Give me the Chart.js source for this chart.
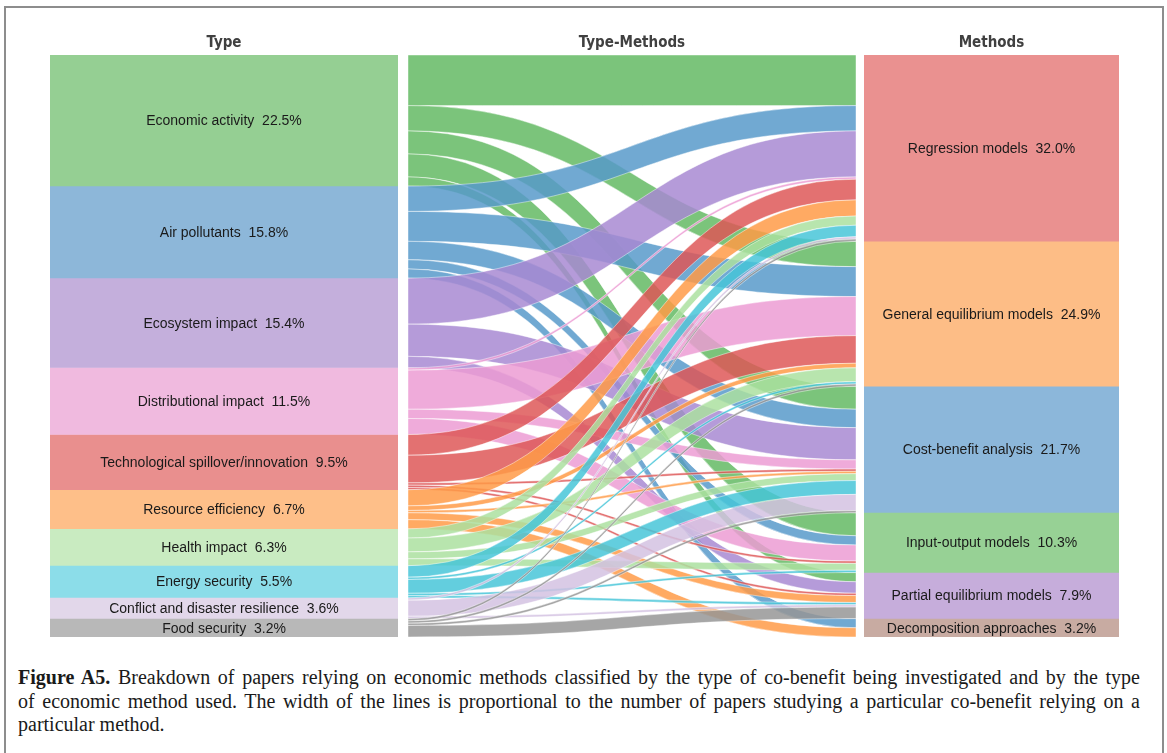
<!DOCTYPE html>
<html>
<head>
<meta charset="utf-8">
<script src="https://cdn.jsdelivr.net/npm/chart.js@4.4.1/dist/chart.umd.min.js"></script>
<style>
    body { margin: 0; background: #fff; width: 1167px; height: 753px; position: relative; overflow: hidden; }
    #frame { position: absolute; left: 4px; top: 6px; width: 1156px; height: 800px; border: 2px solid #8d8d8d; }
    .col { position: absolute; top: 33px; height: 604px; }
    #cap { position: absolute; left: 18px; top: 666px; width: 1122px; font-family: "Liberation Serif", "Times New Roman", serif; font-size: 20px; line-height: 23.5px; color: #1a1a1a; }
    #cap div.j { text-align: justify; text-align-last: justify; }
</style>
</head>
<body>
<div id="frame"></div>
<div class="col" style="left:50px;width:348px"><canvas id="typeChart"></canvas></div>
<div class="col" style="left:408px;width:448px"><canvas id="flowChart"></canvas></div>
<div class="col" style="left:864px;width:255px"><canvas id="methodChart"></canvas></div>
<div id="cap">
    <div class="j"><b>Figure A5.</b> Breakdown of papers relying on economic methods classified by the type of co-benefit being investigated and by the type</div>
    <div class="j">of economic method used. The width of the lines is proportional to the number of papers studying a particular co-benefit relying on a</div>
    <div>particular method.</div>
</div>
<script>
/* ─── 資料 ─── */
const types = ['Economic activity', 'Air pollutants', 'Ecosystem impact', 'Distributional impact',
    'Technological spillover/innovation', 'Resource efficiency', 'Health impact', 'Energy security',
    'Conflict and disaster resilience', 'Food security'];
const typePct = [22.5, 15.8, 15.4, 11.5, 9.5, 6.7, 6.3, 5.5, 3.6, 3.2];

const methods = ['Regression models', 'General equilibrium models', 'Cost-benefit analysis',
    'Input-output models', 'Partial equilibrium models', 'Decomposition approaches'];
const methodPct = [32.0, 24.9, 21.7, 10.3, 7.9, 3.2];

/* papers per type -> [Regression, GE, CBA, IO, PE, Decomposition] */
const econFlows     = [22, 11, 10, 10, 4, 0];
const airFlows      = [11, 13,  8,  4, 0, 4];
const ecoFlows      = [20,  0, 14,  0, 5, 0];
const distFlows     = [ 1, 17,  4,  7, 0, 0];
const techFlows     = [ 9, 12,  1,  1, 1, 0];
const resFlows      = [ 7,  2,  1,  0, 3, 4];
const healthFlows   = [ 4,  6,  3,  3, 0, 0];
const energyFlows   = [ 5,  1,  6,  1, 1, 0];
const conflictFlows = [ 1,  0,  7,  0, 1, 0];
const foodFlows     = [ 1,  1,  1,  0, 5, 0];
const flowRows = [econFlows, airFlows, ecoFlows, distFlows, techFlows, resFlows,
    healthFlows, energyFlows, conflictFlows, foodFlows];

/* ─── 色彩 ─── */
const typeColors   = ['#95cf93', '#8db7d9', '#c4afdc', '#f0badf', '#e98f8e', '#febf89', '#c9ebc1', '#8cdde9', '#e2d7ea', '#b8b8b8'];
const flowColors   = ['rgba(100,186,100,0.85)', 'rgba(88,154,202,0.85)', 'rgba(168,138,210,0.85)', 'rgba(236,156,212,0.85)',
    'rgba(222,88,88,0.85)', 'rgba(255,155,72,0.85)', 'rgba(172,224,160,0.85)', 'rgba(72,198,216,0.85)',
    'rgba(212,194,226,0.85)', 'rgba(150,150,150,0.85)'];
const methodColors = ['#ea9190', '#fdbd86', '#8cb7da', '#97d195', '#c6addb', '#c8aba2'];

const TITLE_FONT = { family: '"DejaVu Sans Condensed", "DejaVu Sans", sans-serif', size: 15, weight: 'bold' };
const titleCfg = text => ({ display: true, text, color: '#404040', font: TITLE_FONT, padding: { top: 1, bottom: 3 } });

/* 段內標籤 */
const segLabels = {
    id: 'segLabels',
    afterDatasetsDraw(chart) {
        const ctx = chart.ctx;
        ctx.save();
        ctx.font = '14px "Liberation Sans", Arial, sans-serif';
        ctx.fillStyle = '#1a1a1a';
        ctx.textAlign = 'center';
        ctx.textBaseline = 'middle';
        chart.data.datasets.forEach((ds, i) => {
            const bar = chart.getDatasetMeta(i).data[0];
            ctx.fillText(ds.label + '  ' + ds.data[0].toFixed(1) + '%', bar.x, (bar.y + bar.base) / 2 + 1);
        });
        ctx.restore();
    },
};

function columnChart(id, title, labels, pcts, colors) {
    return new Chart(document.getElementById(id), {
        type: 'bar',
        data: {
            labels: [title],
            datasets: labels.map((l, i) => ({
                label: l,
                data: [pcts[i]],
                backgroundColor: colors[i],
                borderWidth: 0,
                barPercentage: 1,
                categoryPercentage: 1,
                stack: 's',
            })),
        },
        options: {
            responsive: true,
            maintainAspectRatio: false,
            animation: false,
            layout: { padding: 0 },
            scales: {
                x: { display: false, stacked: true },
                y: { display: false, stacked: true, min: 0, max: 100, reverse: true },
            },
            plugins: { legend: { display: false }, tooltip: { enabled: false }, title: titleCfg(title) },
        },
        plugins: [segLabels],
    });
}

columnChart('typeChart', 'Type', types, typePct, typeColors);
columnChart('methodChart', 'Methods', methods, methodPct, methodColors);

/* 流帶：左側依方法排序，右側依類型排序 */
const totalPapers = flowRows.reduce((s, r) => s + r.reduce((a, b) => a + b, 0), 0);
const flowBands = {
    id: 'flowBands',
    beforeDatasetsDraw(chart) {
        const { ctx, chartArea: a, scales: { y } } = chart;
        const mOff = [];
        let acc = 0;
        methods.forEach((m, j) => { mOff.push(acc); acc += flowRows.reduce((s, r) => s + r[j], 0); });
        const xm = (a.left + a.right) / 2;
        let left = 0;
        ctx.save();
        flowRows.forEach((row, t) => {
            row.forEach((v, m) => {
                if (!v) return;
                const l0 = y.getPixelForValue(left), l1 = y.getPixelForValue(left + v);
                const r0 = y.getPixelForValue(mOff[m]), r1 = y.getPixelForValue(mOff[m] + v);
                ctx.beginPath();
                ctx.moveTo(a.left, l0);
                ctx.bezierCurveTo(xm, l0, xm, r0, a.right, r0);
                ctx.lineTo(a.right, r1);
                ctx.bezierCurveTo(xm, r1, xm, l1, a.left, l1);
                ctx.closePath();
                ctx.fillStyle = flowColors[t];
                ctx.fill();
                ctx.strokeStyle = 'rgba(255,255,255,0.55)';
                ctx.lineWidth = 0.8;
                ctx.stroke();
                left += v;
                mOff[m] += v;
            });
        });
        ctx.restore();
    },
};

new Chart(document.getElementById('flowChart'), {
    type: 'scatter',
    data: { datasets: [] },
    options: {
        responsive: true,
        maintainAspectRatio: false,
        animation: false,
        layout: { padding: 0 },
        scales: {
            x: { display: false, min: 0, max: 1 },
            y: { display: false, min: 0, max: totalPapers, reverse: true },
        },
        plugins: { legend: { display: false }, tooltip: { enabled: false }, title: titleCfg('Type-Methods') },
    },
    plugins: [flowBands],
});
</script>
</body>
</html>
